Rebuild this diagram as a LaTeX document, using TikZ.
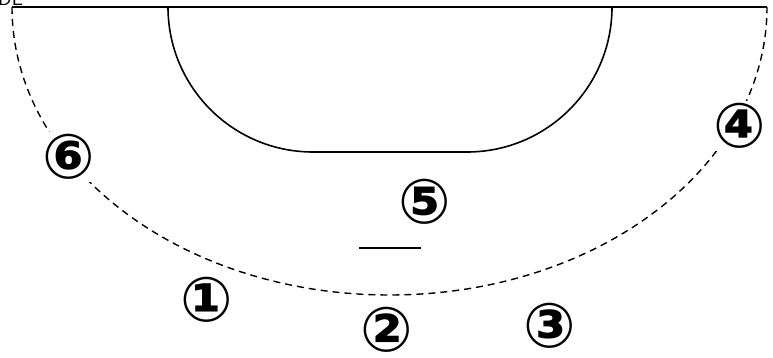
\documentclass[tikz,border=0pt]{standalone}
\usepackage{fontspec}
\newfontfamily\circfont{DejaVu Sans}
\begin{document}
\begin{tikzpicture}[x=1pt,y=1pt,
  lbl/.style={font=\circfont\bfseries\fontsize{62}{62}\selectfont, fill=white, inner sep=2pt},
  solidline/.style={line width=1.6pt},
  dashline/.style={line width=1.4pt, dash pattern=on 7pt off 5pt}]
\useasboundingbox (0,0) rectangle (773,-358);
% clipped text fragment at top-left
\node[anchor=base west, font=\sffamily\fontsize{20}{20}\selectfont, inner sep=0pt] (de) at (-2,-6) {DE};
% dashed elliptical arc
\coordinate (aL) at (12,-7);
\coordinate (aR) at (767,-7);
\draw[dashline] (aL) arc[start angle=180, end angle=360, x radius=377.5, y radius=288];
% top line
\draw[solidline] (aL) -- (aR);
% key shape
\coordinate (kL) at (168,-7);
\coordinate (kR) at (612,-7);
\draw[solidline] (kL) arc[start angle=180, end angle=270, radius=145] -- (467,-152)
  arc[start angle=270, end angle=360, radius=145];
% short line
\coordinate (sA) at (359,-248);
\coordinate (sB) at (421,-248);
\draw[solidline] (sA) -- (sB);
% labels
\node[lbl] (n1) at (207,-300) {①};
\node[lbl] (n2) at (387,-330) {②};
\node[lbl] (n3) at (550,-326) {③};
\node[lbl] (n4) at (740,-126) {④};
\node[lbl] (n5) at (425,-202) {⑤};
\node[lbl] (n6) at (69,-157) {⑥};
\end{tikzpicture}
\end{document}
